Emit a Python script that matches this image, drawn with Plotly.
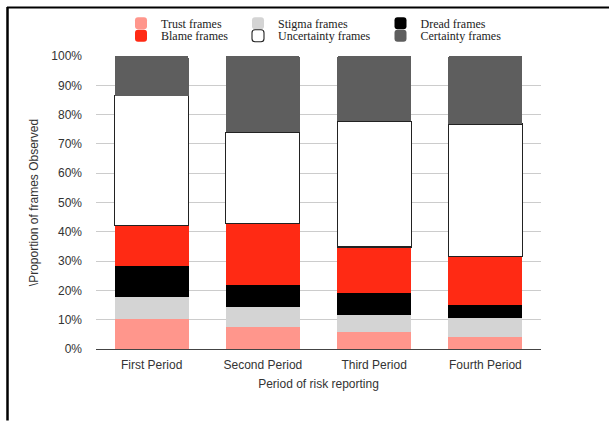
import plotly.graph_objects as go

periods = ["First Period", "Second Period", "Third Period", "Fourth Period"]
trust = [10.2, 7.6, 5.8, 4.2]
stigma = [7.7, 6.9, 5.7, 6.4]
dread = [10.5, 7.3, 7.5, 4.5]
blame = [13.9, 21.1, 15.8, 16.5]
uncertainty = [44.1, 31.1, 43.0, 45.2]
certainty = [13.6, 26.0, 22.2, 23.2]
y_ticks = [0, 10, 20, 30, 40, 50, 60, 70, 80, 90, 100]

W, H = 609, 421
L, R, T, B = 96, 68, 56, 71.5
pw, ph = W - L - R, H - T - B

def px2x(px):
    return (px - L) / pw

def px2y(py):
    return (H - B - py) / ph

series = [
    ("Trust frames", trust, "#FF968C", None, 143, 23.2),
    ("Stigma frames", stigma, "#D4D4D4", None, 260, 23.2),
    ("Dread frames", dread, "#000000", None, 402.5, 23.2),
    ("Blame frames", blame, "#FF2A14", None, 143, 35.8),
    ("Uncertainty frames", uncertainty, "#FFFFFF", "#222222", 260, 35.8),
    ("Certainty frames", certainty, "#5E5E5E", None, 402.5, 35.8),
]

fig = go.Figure()
layout_legends = {}
for i, (name, vals, color, lc, lx, ly) in enumerate(series):
    key = "legend" if i == 0 else f"legend{i+1}"
    fig.add_trace(go.Bar(
        x=periods, y=vals, name=name, legend=key,
        marker=dict(color=color, line=dict(color=lc if lc else color, width=1.1 if lc else 0)),
        hoverinfo="skip",
    ))
    layout_legends[key] = dict(
        xref="container", yref="container",
        x=(lx - 22) / W, y=1 - ly / H, xanchor="left", yanchor="middle",
        orientation="h", bgcolor="rgba(0,0,0,0)", borderwidth=0,
        font=dict(family="Liberation Serif", size=12, color="#222"),
        traceorder="normal", itemclick=False, itemdoubleclick=False,
    )

fig.update_layout(
    width=W, height=H, barmode="stack", bargap=0.334,
    barcornerradius=2,
    margin=dict(l=L, r=R, t=T, b=B, pad=0, autoexpand=False),
    paper_bgcolor="white", plot_bgcolor="white",
    showlegend=True,
    font=dict(family="Liberation Sans", size=12, color="#333"),
    xaxis=dict(
        showgrid=False, showline=True, linecolor="#444", linewidth=1,
        ticks="", ticklabelstandoff=5, tickfont=dict(size=12, color="#333"),
        title=dict(text="Period of risk reporting", font=dict(size=12, color="#333"), standoff=8),
    ),
    yaxis=dict(
        range=[0, 100], tickvals=y_ticks, ticktext=[f"{v}%" for v in y_ticks],
        showgrid=True, gridcolor="#CCCCCC", gridwidth=1, zeroline=False,
        showline=False, ticks="", ticklabelstandoff=13,
        tickfont=dict(size=12, color="#333"),
        title=dict(text="\\Proportion of frames Observed", font=dict(size=12, color="#333"), standoff=10),
    ),
    shapes=[
        dict(type="line", xref="paper", yref="paper", x0=px2x(7), x1=px2x(609), y0=px2y(7.5), y1=px2y(7.5),
             line=dict(color="black", width=2)),
        dict(type="line", xref="paper", yref="paper", x0=px2x(7.5), x1=px2x(7.5), y0=px2y(7), y1=px2y(421),
             line=dict(color="black", width=2.5)),
    ],
    **layout_legends,
)

fig.write_html("out.html")
